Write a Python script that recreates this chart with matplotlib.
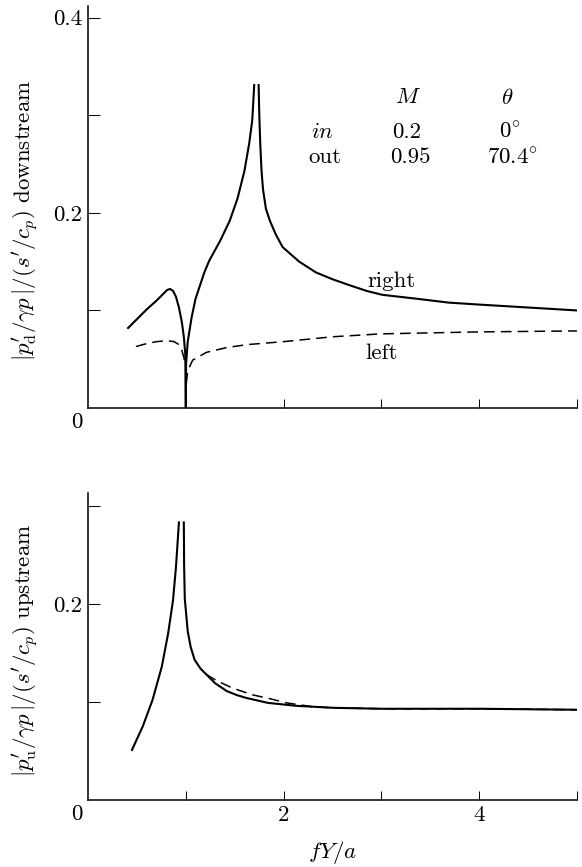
import matplotlib
matplotlib.use("Agg")
import matplotlib.pyplot as plt

plt.rcParams['font.family'] = 'serif'
plt.rcParams['font.serif'] = ['cmr10', 'DejaVu Serif']
plt.rcParams['mathtext.fontset'] = 'cm'
plt.rcParams['axes.unicode_minus'] = False

FS = 16.5

# downstream, solid ("right") in three pieces split at cut-off and singularity
down_right_x1 = [0.41, 0.5, 0.6, 0.7, 0.77, 0.81, 0.84, 0.87, 0.9, 0.93, 0.96, 0.98, 0.995, 1.0]
down_right_y1 = [0.082, 0.091, 0.101, 0.110, 0.117, 0.121, 0.122, 0.120, 0.114, 0.103, 0.088, 0.073, 0.055, 0.0]
down_right_x2 = [1.0, 1.003, 1.02, 1.06, 1.10, 1.14, 1.19, 1.24, 1.30, 1.35, 1.45, 1.53, 1.60, 1.65, 1.68, 1.70]
down_right_y2 = [0.0, 0.045, 0.068, 0.093, 0.112, 0.124, 0.139, 0.151, 0.162, 0.171, 0.192, 0.215, 0.243, 0.272, 0.295, 0.331]
down_right_x3 = [1.745, 1.752, 1.762, 1.775, 1.79, 1.82, 1.86, 1.92, 1.99, 2.08, 2.16, 2.33, 2.5, 2.67,
                 2.85, 3.01, 3.36, 3.69, 4.0, 4.5, 5.0]
down_right_y3 = [0.331, 0.300, 0.270, 0.243, 0.224, 0.204, 0.192, 0.178, 0.165, 0.157, 0.150, 0.139, 0.132, 0.126,
                 0.120, 0.116, 0.112, 0.108, 0.106, 0.103, 0.100]

# downstream, dashed ("left")
down_left_x1 = [0.49, 0.6, 0.7, 0.81, 0.88, 0.93, 0.96, 0.98, 0.995]
down_left_y1 = [0.063, 0.066, 0.068, 0.069, 0.068, 0.065, 0.059, 0.052, 0.045]
down_left_x2 = [1.005, 1.02, 1.07, 1.21, 1.42, 1.63, 2.0, 2.5, 3.0, 4.0, 5.0]
down_left_y2 = [0.025, 0.038, 0.049, 0.057, 0.062, 0.065, 0.068, 0.073, 0.076, 0.078, 0.079]

# upstream, solid
up_solid_x1 = [0.45, 0.5, 0.56, 0.66, 0.755, 0.82, 0.87, 0.90, 0.92, 0.93]
up_solid_y1 = [0.051, 0.062, 0.075, 0.102, 0.136, 0.170, 0.204, 0.238, 0.268, 0.283]
up_solid_x2 = [0.98, 0.983, 0.99, 1.02, 1.05, 1.09, 1.15, 1.21, 1.3, 1.42, 1.52, 1.62, 1.84, 2.13, 2.5, 3.0, 4.0, 5.0]
up_solid_y2 = [0.283, 0.240, 0.205, 0.172, 0.156, 0.143, 0.134, 0.128, 0.119, 0.111, 0.107, 0.104, 0.099, 0.096,
               0.094, 0.093, 0.093, 0.092]

# upstream, dashed
up_dash_x = [1.21, 1.31, 1.48, 1.69, 1.83, 2.03, 2.3, 2.5, 3.0, 4.0, 5.0]
up_dash_y = [0.128, 0.122, 0.114, 0.107, 0.104, 0.099, 0.095, 0.094, 0.093, 0.093, 0.092]

fig = plt.figure(figsize=(5.82, 8.67), dpi=100)
ax1 = fig.add_axes([0.1512, 0.5294, 0.840, 0.4637])
ax2 = fig.add_axes([0.1512, 0.0773, 0.840, 0.3541])

solid = dict(color='black', lw=1.5)
dashed = dict(color='black', lw=1.1, dashes=(7, 4))

for x, y in [(down_right_x1, down_right_y1), (down_right_x2, down_right_y2), (down_right_x3, down_right_y3)]:
    ax1.plot(x, y, **solid)
ax1.plot(down_left_x1, down_left_y1, **dashed)
ax1.plot(down_left_x2, down_left_y2, **dashed)

ax2.plot(up_solid_x1, up_solid_y1, **solid)
ax2.plot(up_solid_x2, up_solid_y2, **solid)
ax2.plot(up_dash_x, up_dash_y, **dashed)

for ax in (ax1, ax2):
    ax.set_xlim(0, 5)
    ax.spines['top'].set_visible(False)
    ax.spines['right'].set_visible(False)
    ax.spines['left'].set_linewidth(1.1)
    ax.spines['bottom'].set_linewidth(1.1)
    ax.tick_params(axis='y', direction='in', length=8.5, width=0.7, pad=4, labelsize=FS)
    ax.tick_params(axis='x', direction='in', length=6.5, width=0.7, pad=4, labelsize=FS)
    ax.annotate('0', xy=(0, 0), xycoords='data', xytext=(-11, -14), textcoords='offset pixels',
                ha='center', va='center', fontsize=FS)

ax1.set_ylim(0, 0.412)
ax1.set_yticks([0.1, 0.2, 0.3, 0.4])
ax1.set_yticklabels(['', '0.2', '', '0.4'])
ax1.set_xticks([1, 2, 3, 4, 5])
ax1.set_xticklabels([])

ax2.set_ylim(0, 0.313)
ax2.set_yticks([0.1, 0.2, 0.3])
ax2.set_yticklabels(['', '0.2', ''])
ax2.set_xticks([1, 2, 3, 4, 5])
ax2.set_xticklabels(['', '2', '', '4', ''])

# parameter table
ax1.text(3.27, 0.318, r'$M$', ha='center', va='center', fontsize=FS)
ax1.text(4.29, 0.318, r'$\theta$', ha='center', va='center', fontsize=FS)
ax1.text(2.40, 0.283, r'$in$', ha='center', va='center', fontsize=FS)
ax1.text(2.42, 0.257, 'out', ha='center', va='center', fontsize=FS)
ax1.text(3.26, 0.283, '0.2', ha='center', va='center', fontsize=FS)
ax1.text(3.30, 0.257, '0.95', ha='center', va='center', fontsize=FS)
ax1.text(4.31, 0.283, r'$0^{\circ}$', ha='center', va='center', fontsize=FS)
ax1.text(4.34, 0.257, r'$70.4^{\circ}$', ha='center', va='center', fontsize=FS)

ax1.text(3.10, 0.130, 'right', ha='center', va='center', fontsize=FS)
ax1.text(3.00, 0.056, 'left', ha='center', va='center', fontsize=FS)

fig.text(25 / 582, 1 - 220 / 867, r"$|p_{\rm d}^{\prime}/\gamma p\,|/(s^{\prime}/c_p)$ downstream",
         rotation=90, ha='center', va='center', fontsize=FS)
fig.text(25 / 582, 1 - 650 / 867, r"$|p_{\rm u}^{\prime}/\gamma p\,|/(s^{\prime}/c_p)$ upstream",
         rotation=90, ha='center', va='center', fontsize=FS)
fig.text(333 / 582, 1 - 852 / 867, r'$fY/a$', ha='center', va='center', fontsize=FS)

fig.savefig('out.png', dpi=100)
